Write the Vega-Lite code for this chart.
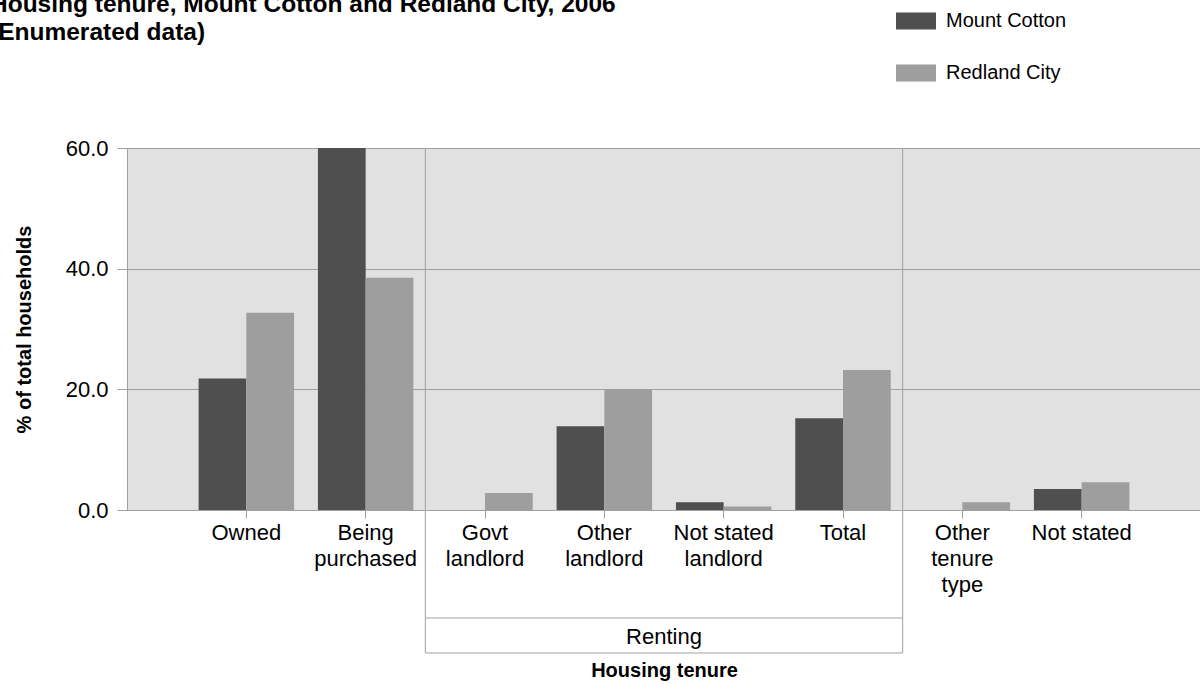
{
  "$schema": "https://vega.github.io/schema/vega-lite/v6.json",
  "width": 1074,
  "height": 362,
  "autosize": "none",
  "padding": {"left": 127, "top": 148, "right": 0, "bottom": 174},
  "background": "white",
  "config": {
    "font": "Liberation Sans",
    "view": {"fill": "#e1e1e1", "stroke": null}
  },
  "title": {
    "text": ["Housing tenure, Mount Cotton and Redland City, 2006", "(Enumerated data)"],
    "anchor": "start",
    "frame": "group",
    "dx": -137,
    "fontSize": 24.5,
    "fontWeight": "bold",
    "lineHeight": 28,
    "color": "#000000",
    "offset": -44
  },
  "datasets": {
    "tenure": [
      {"category": "Owned", "area": "Mount Cotton", "percent": 21.8},
      {"category": "Owned", "area": "Redland City", "percent": 32.7},
      {"category": "Being purchased", "area": "Mount Cotton", "percent": 60.0},
      {"category": "Being purchased", "area": "Redland City", "percent": 38.5},
      {"category": "Govt landlord", "area": "Mount Cotton", "percent": 0.0},
      {"category": "Govt landlord", "area": "Redland City", "percent": 2.8},
      {"category": "Other landlord", "area": "Mount Cotton", "percent": 13.9},
      {"category": "Other landlord", "area": "Redland City", "percent": 19.9},
      {"category": "Not stated landlord", "area": "Mount Cotton", "percent": 1.3},
      {"category": "Not stated landlord", "area": "Redland City", "percent": 0.6},
      {"category": "Total", "area": "Mount Cotton", "percent": 15.2},
      {"category": "Total", "area": "Redland City", "percent": 23.2},
      {"category": "Other tenure type", "area": "Mount Cotton", "percent": 0.0},
      {"category": "Other tenure type", "area": "Redland City", "percent": 1.3},
      {"category": "Not stated", "area": "Mount Cotton", "percent": 3.5},
      {"category": "Not stated", "area": "Redland City", "percent": 4.6}
    ],
    "groups": [
      {"group": "Renting", "first": "Govt landlord", "last": "Total", "middle": "Not stated landlord"}
    ]
  },
  "layer": [
    {
      "data": {"name": "tenure"},
      "mark": {"type": "bar"},
      "encoding": {
        "x": {
          "field": "category",
          "type": "nominal",
          "scale": {"domain": ["Owned", "Being purchased", "Govt landlord", "Other landlord", "Not stated landlord", "Total", "Other tenure type", "Not stated"], "paddingInner": 0.2, "paddingOuter": 0.6},
          "axis": {
            "title": "Housing tenure",
            "titleFontSize": 20,
            "titleFontWeight": "bold",
            "titleColor": "#000000",
            "titleBaseline": "alphabetic",
            "titleY": 166,
            "labelAngle": 0,
            "labelFontSize": 22,
            "labelLineHeight": 26,
            "labelColor": "#000000",
            "labelPadding": 4,
            "labelExpr": "datum.label == 'Being purchased' ? ['Being', 'purchased'] : datum.label == 'Govt landlord' ? ['Govt', 'landlord'] : datum.label == 'Other landlord' ? ['Other', 'landlord'] : datum.label == 'Not stated landlord' ? ['Not stated', 'landlord'] : datum.label == 'Other tenure type' ? ['Other', 'tenure', 'type'] : datum.label",
            "tickSize": 8,
            "tickColor": "#a0a0a0",
            "domainColor": "#a0a0a0",
            "grid": false
          }
        },
        "xOffset": {
          "field": "area",
          "type": "nominal",
          "scale": {"paddingInner": 0, "paddingOuter": 0}
        },
        "y": {
          "field": "percent",
          "type": "quantitative",
          "scale": {"domain": [0, 60], "nice": false},
          "axis": {
            "title": "% of total households",
            "titleFontSize": 20,
            "titleFontWeight": "bold",
            "titleColor": "#000000",
            "titleBaseline": "alphabetic",
            "titleAngle": -90,
            "titleX": -97,
            "titleY": 181,
            "titleAlign": "center",
            "values": [0, 20, 40, 60],
            "format": ".1f",
            "labelFontSize": 22,
            "labelColor": "#000000",
            "labelPadding": 9,
            "tickSize": 10,
            "tickColor": "#a0a0a0",
            "domainColor": "#a0a0a0",
            "grid": true,
            "gridColor": "#a0a0a0",
            "gridWidth": 1
          }
        },
        "color": {
          "field": "area",
          "type": "nominal",
          "scale": {"domain": ["Mount Cotton", "Redland City"], "range": ["#4f4f4f", "#9e9e9e"]},
          "legend": {
            "title": null,
            "orient": "none",
            "legendX": 769,
            "legendY": -147,
            "direction": "vertical",
            "symbolType": "M-1,-0.425H1V0.425H-1Z",
            "symbolSize": 1600,
            "symbolStrokeWidth": 0,
            "labelFontSize": 20,
            "labelColor": "#000000",
            "labelOffset": 10,
            "rowPadding": 22
          }
        }
      }
    },
    {
      "data": {"name": "groups"},
      "mark": {"type": "rule", "color": "#a0a0a0", "strokeWidth": 1},
      "encoding": {
        "x": {"field": "first", "type": "nominal", "bandPosition": -0.125},
        "y": {"datum": 60, "type": "quantitative", "scale": {"domain": [0, 60], "nice": false}},
        "y2": {"datum": -23.7}
      }
    },
    {
      "data": {"name": "groups"},
      "mark": {"type": "rule", "color": "#a0a0a0", "strokeWidth": 1},
      "encoding": {
        "x": {"field": "last", "type": "nominal", "bandPosition": 1.125},
        "y": {"datum": 60, "type": "quantitative", "scale": {"domain": [0, 60], "nice": false}},
        "y2": {"datum": -23.7}
      }
    },
    {
      "data": {"name": "groups"},
      "mark": {"type": "rule", "color": "#a0a0a0", "strokeWidth": 1},
      "encoding": {
        "x": {"field": "first", "type": "nominal", "bandPosition": -0.125},
        "x2": {"field": "last", "bandPosition": 1.125},
        "y": {"datum": -17.9, "type": "quantitative", "scale": {"domain": [0, 60], "nice": false}}
      }
    },
    {
      "data": {"name": "groups"},
      "mark": {"type": "rule", "color": "#a0a0a0", "strokeWidth": 1},
      "encoding": {
        "x": {"field": "first", "type": "nominal", "bandPosition": -0.125},
        "x2": {"field": "last", "bandPosition": 1.125},
        "y": {"datum": -23.7, "type": "quantitative", "scale": {"domain": [0, 60], "nice": false}}
      }
    },
    {
      "data": {"name": "groups"},
      "mark": {"type": "text", "fontSize": 22, "color": "#000000", "baseline": "middle", "align": "center"},
      "encoding": {
        "x": {"field": "middle", "type": "nominal", "bandPosition": -0.125},
        "y": {"datum": -21.0, "type": "quantitative", "scale": {"domain": [0, 60], "nice": false}},
        "text": {"field": "group"}
      }
    }
  ]
}
